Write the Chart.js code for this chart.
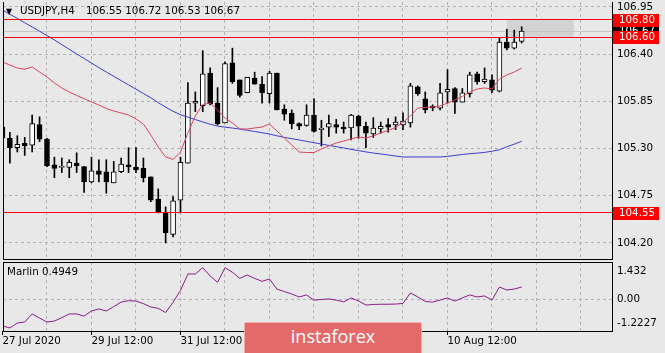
<!DOCTYPE html>
<html lang="en">
<head>
<meta charset="UTF-8">
<title>USDJPY,H4</title>
<script src="https://cdn.jsdelivr.net/npm/chart.js"></script>
<style>
    html, body { margin: 0; padding: 0; background: #e8e8e8; }
    #wrap { position: relative; width: 665px; height: 353px; overflow: hidden; }
    #wrap canvas { position: absolute; left: 0; top: 0; }
    .logo {
        position: absolute; left: 244px; top: 322px; width: 178px; height: 36px;
        box-sizing: border-box; background: #e46a6a; border: 1px solid #f2aaaa; border-radius: 2px;
    }
    .logo span {
        position: absolute; left: 0; right: 0; top: 3px; line-height: 20px; text-align: center;
        color: #fff; font-family: 'Open Sans', sans-serif; font-size: 18px;
    }
</style>
</head>
<body>
<div id="wrap">
    <canvas id="mainChart" width="665" height="353"></canvas>
    <canvas id="marlinChart" width="665" height="353"></canvas>
    <div class="logo"><span>instaforex</span></div>
</div>

<script>
// USDJPY H4, 27 Jul 12:00 .. 12 Aug 04:00 (one value per bar)
const openP  = [105.55, 105.42, 105.31, 105.36, 105.34, 105.58, 105.41, 105.11, 105.08, 105.08,
                105.13, 105.09, 104.91, 105.04, 105.03, 104.90, 105.03, 105.11, 105.085, 105.07,
                104.97, 104.71, 104.56, 104.30, 104.70, 105.13, 105.83, 105.80, 106.18, 105.83,
                105.60, 106.30, 106.10, 105.95, 106.12, 106.05, 105.94, 106.18, 105.76, 105.71,
                105.59, 105.57, 105.69, 105.52, 105.55, 105.58, 105.55, 105.54, 105.68, 105.56,
                105.47, 105.53, 105.58, 105.575, 105.575, 105.60, 106.02, 105.88, 105.795, 105.77,
                105.96, 106.00, 105.84, 105.94, 106.17, 106.08, 106.10, 105.97, 106.54, 106.47, 106.55];
const highP  = [105.57, 105.49, 105.45, 105.43, 105.69, 105.67, 105.42, 105.20, 105.19, 105.17,
                105.25, 105.09, 105.20, 105.17, 105.17, 105.15, 105.19, 105.31, 105.31, 105.19,
                104.97, 104.83, 104.62, 104.74, 105.20, 106.07, 105.96, 106.44, 106.24, 106.01,
                106.31, 106.47, 106.10, 106.13, 106.19, 106.14, 106.20, 106.18, 105.81, 105.75,
                105.60, 105.81, 105.88, 105.63, 105.69, 105.64, 105.61, 105.70, 105.69, 105.61,
                105.66, 105.61, 105.65, 105.67, 105.715, 106.06, 106.03, 105.96, 105.81, 106.06,
                106.22, 106.01, 106.00, 106.19, 106.19, 106.24, 106.16, 106.59, 106.69, 106.68, 106.72];
const lowP   = [105.26, 105.13, 105.26, 105.22, 105.26, 105.38, 105.09, 104.96, 105.02, 104.96,
                105.02, 104.79, 104.90, 104.91, 104.78, 104.90, 105.02, 105.02, 105.02, 104.91,
                104.68, 104.55, 104.20, 104.27, 104.55, 105.13, 105.73, 105.73, 105.81, 105.575,
                105.60, 106.06, 105.90, 105.95, 106.05, 105.83, 105.83, 105.75, 105.63, 105.53,
                105.52, 105.56, 105.49, 105.33, 105.44, 105.48, 105.48, 105.40, 105.42, 105.31,
                105.43, 105.48, 105.49, 105.52, 105.52, 105.55, 105.92, 105.715, 105.74, 105.75,
                105.83, 105.71, 105.84, 105.90, 106.05, 106.06, 105.95, 105.96, 106.45, 106.46, 106.53];
const closeP = [105.42, 105.31, 105.35, 105.33, 105.59, 105.41, 105.10, 105.07, 105.085, 105.14,
                105.10, 104.91, 105.04, 105.00, 104.91, 105.03, 105.12, 105.085, 105.05, 104.96,
                104.70, 104.56, 104.32, 104.69, 105.14, 105.83, 105.85, 106.17, 105.82, 105.59,
                106.29, 106.08, 105.92, 106.13, 106.05, 105.95, 106.18, 105.75, 105.70, 105.59,
                105.56, 105.69, 105.50, 105.54, 105.59, 105.55, 105.53, 105.69, 105.56, 105.48,
                105.54, 105.56, 105.55, 105.61, 105.62, 106.03, 105.94, 105.75, 105.775, 105.95,
                105.99, 105.84, 105.95, 106.16, 106.08, 106.11, 105.98, 106.54, 106.47, 106.54, 106.67];

// fast (red) and slow (blue) moving averages
const maFast = [106.309, 106.274, 106.239, 106.224, 106.251, 106.192, 106.134, 106.064, 106.006, 105.959,
                105.919, 105.881, 105.843, 105.808, 105.766, 105.738, 105.715, 105.691, 105.645, 105.586,
                105.458, 105.318, 105.202, 105.173, 105.260, 105.482, 105.680, 105.814, 105.831, 105.750,
                105.656, 105.598, 105.528, 105.528, 105.540, 105.551, 105.586, 105.505, 105.423, 105.342,
                105.260, 105.254, 105.254, 105.295, 105.330, 105.365, 105.388, 105.412, 105.435, 105.423,
                105.447, 105.482, 105.511, 105.546, 105.604, 105.680, 105.773, 105.779, 105.785, 105.796,
                105.831, 105.866, 105.907, 105.959, 105.994, 106.006, 105.994, 106.111, 106.158, 106.192, 106.239];
const maSlow = [106.915, 106.865, 106.817, 106.766, 106.717, 106.667, 106.617, 106.565, 106.511, 106.457,
                106.403, 106.350, 106.297, 106.243, 106.192, 106.142, 106.092, 106.042, 105.992, 105.942,
                105.892, 105.834, 105.783, 105.734, 105.695, 105.666, 105.638, 105.610, 105.584, 105.561,
                105.550, 105.539, 105.527, 105.513, 105.499, 105.485, 105.469, 105.449, 105.430, 105.415,
                105.400, 105.384, 105.368, 105.352, 105.337, 105.322, 105.307, 105.291, 105.276, 105.261,
                105.248, 105.237, 105.225, 105.213, 105.202, 105.202, 105.202, 105.202, 105.202, 105.202,
                105.209, 105.220, 105.231, 105.240, 105.247, 105.255, 105.269, 105.286, 105.321, 105.351, 105.386];

// Marlin oscillator
const marlin = [-1.35, -1.45, -1.20, -1.15, -0.74, -0.95, -1.15, -1.10, -0.93, -0.74,
                -0.74, -0.85, -0.59, -0.49, -0.59, -0.37, -0.14, -0.07, -0.09, -0.22,
                -0.39, -0.46, -0.67, -0.15, 0.45, 1.28, 1.28, 1.60, 1.18, 0.86,
                1.60, 1.37, 1.06, 1.23, 1.06, 0.91, 1.03, 0.52, 0.39, 0.27,
                0.12, 0.22, -0.04, -0.01, 0.02, -0.04, -0.13, 0.07, -0.08, -0.29,
                -0.26, -0.25, -0.25, -0.24, -0.21, 0.32, 0.12, -0.11, -0.14, -0.04,
                0.07, -0.09, 0.07, 0.22, 0.12, 0.17, -0.04, 0.62, 0.47, 0.52, 0.62];

const priceTicks = [104.20, 104.75, 105.30, 105.85, 106.40, 106.95];
const marlinTicks = [-1.2227, 0, 1.432];
const marlinTickLabels = ['-1.2227', '0.00', '1.432'];
const timeLabels = ['27 Jul 2020', '29 Jul 12:00', '31 Jul 12:00', '4 Aug 12:00', '6 Aug 12:00', '10 Aug 12:00'];
const gridBars = [0, 6, 12, 18, 24, 30, 36, 42, 48, 54, 60, 66, 72, 78];
const levels = [106.80, 106.60, 104.55];
const lastPrice = 106.67;
const boxBars = [68, 77];
const marlinText = 'Marlin 0.4949';

const FONT = "'DejaVu Sans', sans-serif";
const FSIZE = 10.3;
const GRID = '#b4b4b4';
const xRange = { min: 0.07, max: 82.18 };

Chart.defaults.color = '#000';
Chart.defaults.font.family = FONT;
Chart.defaults.font.size = FSIZE;

const idx = openP.map((_, i) => i);
const bull = idx.map(i => closeP[i] >= openP[i]);

function zeroPad(s) { s.paddingTop = 0; s.paddingBottom = 0; s.paddingLeft = 0; s.paddingRight = 0; }

// left + bottom border, optional top border
function frame(ctx, a, withTop) {
    ctx.save();
    ctx.strokeStyle = '#000';
    ctx.lineWidth = 1;
    ctx.beginPath();
    ctx.moveTo(a.left + 0.5, a.top);
    ctx.lineTo(a.left + 0.5, a.bottom + 0.5);
    ctx.lineTo(a.right, a.bottom + 0.5);
    if (withTop) {
        ctx.moveTo(a.left, a.top + 0.5);
        ctx.lineTo(a.right, a.top + 0.5);
    }
    ctx.stroke();
    ctx.restore();
}

function priceBox(ctx, a, py, text, bg) {
    ctx.fillStyle = bg;
    ctx.fillRect(a.right + 1, Math.round(py) - 6, 46, 13);
    ctx.fillStyle = '#fff';
    ctx.textBaseline = 'middle';
    ctx.textAlign = 'left';
    ctx.fillText(text, a.right + 7, Math.round(py) + 0.5);
}

const mainDecor = {
    id: 'mainDecor',
    beforeDatasetsDraw(chart) {
        const { ctx, chartArea: a, scales: { x, y } } = chart;
        ctx.save();
        const x1 = x.getPixelForValue(boxBars[0]), x2 = x.getPixelForValue(boxBars[1]);
        const y1 = y.getPixelForValue(levels[0]), y2 = y.getPixelForValue(levels[1]);
        ctx.fillStyle = '#d3d3d3';
        ctx.fillRect(x1, y1, x2 - x1, y2 - y1);
        const yb = Math.floor(y.getPixelForValue(lastPrice)) + 0.5;
        ctx.strokeStyle = '#c6c6c6';
        ctx.beginPath();
        ctx.moveTo(a.left, yb);
        ctx.lineTo(a.right, yb);
        ctx.stroke();
        ctx.restore();
    },
    afterDatasetsDraw(chart) {
        const { ctx, chartArea: a, scales: { y } } = chart;
        ctx.save();
        ctx.strokeStyle = '#ff0000';
        ctx.lineWidth = 1;
        levels.forEach(v => {
            const py = Math.floor(y.getPixelForValue(v)) + 0.5;
            ctx.beginPath();
            ctx.moveTo(a.left, py);
            ctx.lineTo(a.right, py);
            ctx.stroke();
        });
        ctx.restore();
    },
    afterDraw(chart) {
        const { ctx, chartArea: a, scales: { y } } = chart;
        frame(ctx, a, false);
        ctx.save();
        ctx.font = FSIZE + 'px ' + FONT;
        priceBox(ctx, a, y.getPixelForValue(lastPrice), lastPrice.toFixed(2), '#000');
        levels.forEach(v => priceBox(ctx, a, y.getPixelForValue(v), v.toFixed(2), '#ff0000'));

        // title line
        const n = openP.length - 1;
        ctx.fillStyle = '#000';
        ctx.textBaseline = 'middle';
        ctx.textAlign = 'left';
        ctx.fillText('USDJPY,H4', 20, 11.5);
        ctx.fillText([openP[n], highP[n], lowP[n], closeP[n]].map(v => v.toFixed(2)).join(' '), 86, 11.5);
        ctx.font = '8px ' + FONT;
        ctx.fillText('\u25BC', 6, 11.5);
        ctx.restore();
    }
};

new Chart(document.getElementById('mainChart'), {
    type: 'bar',
    data: {
        datasets: [
            {
                type: 'line', data: idx.map(i => ({ x: i, y: maFast[i] })),
                borderColor: '#dc4460', borderWidth: 1, pointRadius: 0, tension: 0, order: 0
            },
            {
                type: 'line', data: idx.map(i => ({ x: i, y: maSlow[i] })),
                borderColor: '#3c3cd0', borderWidth: 1, pointRadius: 0, tension: 0, order: 0
            },
            {
                data: idx.map(i => ({ x: i, y: [openP[i], closeP[i]] })),
                backgroundColor: bull.map(b => b ? '#ffffff' : '#000000'),
                borderColor: '#000', borderWidth: 1, borderSkipped: false,
                barThickness: 5, minBarLength: 1, grouped: false, order: 1
            },
            {
                data: idx.map(i => ({ x: i, y: [lowP[i], highP[i]] })),
                backgroundColor: '#000', borderWidth: 0,
                barThickness: 1, grouped: false, order: 2
            }
        ]
    },
    options: {
        responsive: false,
        animation: false,
        devicePixelRatio: 1,
        layout: { padding: { left: 3, top: 2, right: 0, bottom: 94 } },
        plugins: { legend: { display: false }, tooltip: { enabled: false } },
        scales: {
            x: {
                type: 'linear', min: xRange.min, max: xRange.max, offset: false,
                afterBuildTicks: s => { s.ticks = gridBars.filter(v => v > 0).map(v => ({ value: v })); },
                afterFit: s => { s.height = 0; zeroPad(s); },
                ticks: { display: false },
                grid: { color: GRID, drawTicks: false, offset: false },
                border: { display: false, dash: [3, 3] }
            },
            y: {
                position: 'right', min: 104.013, max: 107.008,
                afterBuildTicks: s => { s.ticks = priceTicks.map(v => ({ value: v })); },
                afterFit: s => { s.width = 53; zeroPad(s); },
                ticks: { padding: 5, autoSkip: false, callback: v => Number(v).toFixed(2) },
                grid: { color: GRID, drawTicks: false },
                border: { display: true, color: '#000', dash: [3, 3] }
            }
        }
    },
    plugins: [mainDecor]
});

const marlinDecor = {
    id: 'marlinDecor',
    afterDraw(chart) {
        const { ctx, chartArea: a } = chart;
        frame(ctx, a, true);
        ctx.save();
        ctx.font = FSIZE + 'px ' + FONT;
        ctx.fillStyle = '#000';
        ctx.textBaseline = 'middle';
        ctx.textAlign = 'left';
        ctx.fillText(marlinText, 7, 272);
        ctx.restore();
    }
};

const labelled = v => v % 12 === 0 && v / 12 < timeLabels.length;

new Chart(document.getElementById('marlinChart'), {
    type: 'line',
    data: {
        datasets: [{
            data: idx.map(i => ({ x: i, y: marlin[i] })),
            borderColor: '#8a1c8a', borderWidth: 1, pointRadius: 0, tension: 0
        }]
    },
    options: {
        responsive: false,
        animation: false,
        devicePixelRatio: 1,
        layout: { padding: { left: 3, top: 262, right: 0, bottom: 0 } },
        plugins: { legend: { display: false }, tooltip: { enabled: false } },
        scales: {
            x: {
                type: 'linear', min: xRange.min, max: xRange.max,
                afterBuildTicks: s => { s.ticks = gridBars.map(v => ({ value: v })); },
                afterFit: s => { s.height = 22; zeroPad(s); },
                ticks: {
                    align: 'start', padding: 0, autoSkip: false, maxRotation: 0, minRotation: 0,
                    callback: v => labelled(v) ? timeLabels[v / 12] : ''
                },
                grid: {
                    color: c => (c.tick && c.tick.value === 0) ? 'transparent' : GRID,
                    tickColor: c => (c.tick && labelled(c.tick.value)) ? '#000' : 'transparent',
                    tickLength: 4
                },
                border: { display: false, dash: [3, 3] }
            },
            y: {
                position: 'right', min: -1.604, max: 1.888,
                afterBuildTicks: s => { s.ticks = marlinTicks.map(v => ({ value: v })); },
                afterFit: s => { s.width = 53; zeroPad(s); },
                ticks: { padding: 5, autoSkip: false, callback: (v, i) => marlinTickLabels[i] },
                grid: { color: c => (c.tick && c.tick.value === 0) ? GRID : 'transparent', drawTicks: false },
                border: { display: true, color: '#000', dash: [3, 3] }
            }
        }
    },
    plugins: [marlinDecor]
});
</script>
</body>
</html>
